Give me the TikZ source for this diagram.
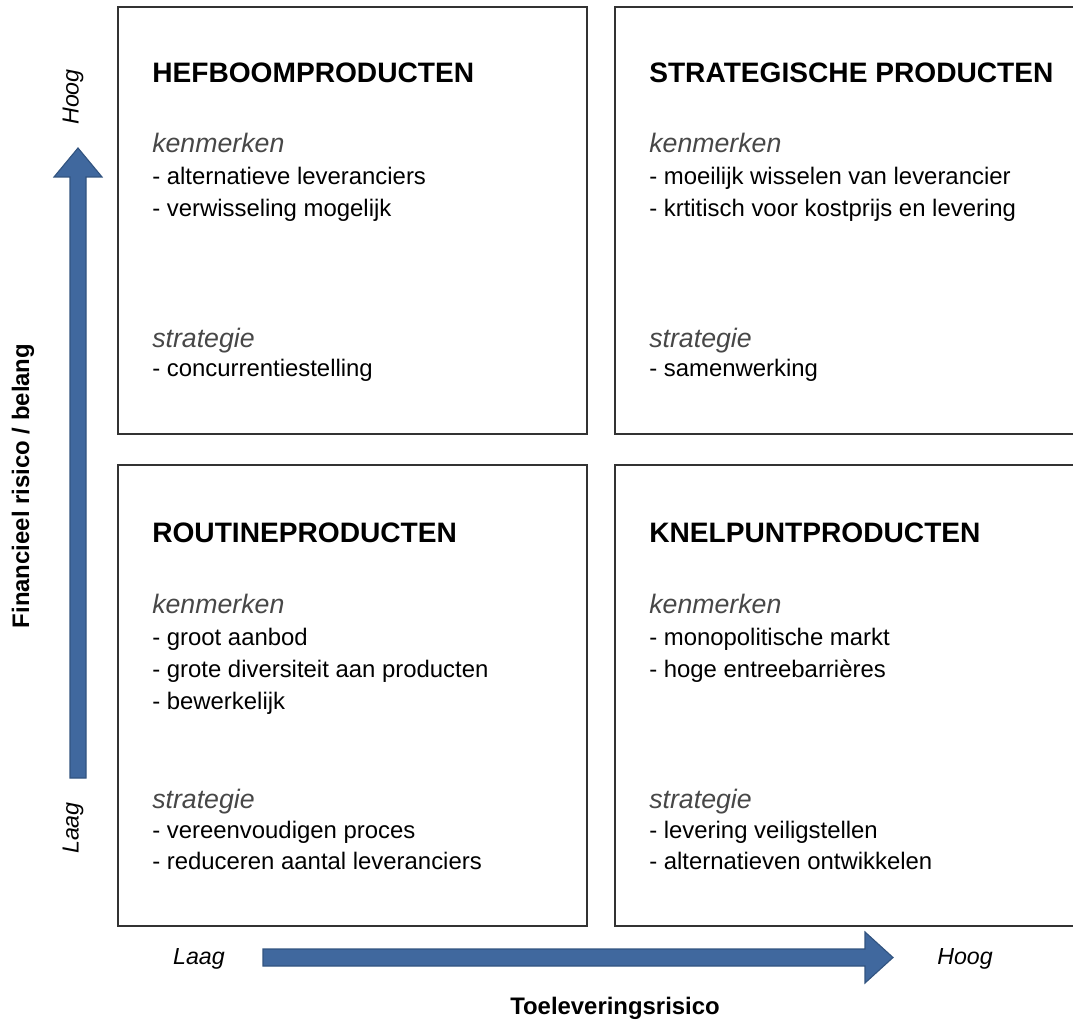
\documentclass[tikz,border=0pt]{standalone}
\usepackage{fontspec}
\setmainfont{Liberation Sans}
\usepackage{xcolor}
\usepackage{tikz}

\definecolor{arrowblue}{RGB}{64,104,158}
\definecolor{arrowedge}{RGB}{50,84,128}
\definecolor{boxline}{RGB}{51,51,51}

\tikzset{
  quad/.style={draw=boxline, line width=1.3pt},
  titletext/.style={anchor=base west, inner sep=0pt, font=\fontsize{20}{24}\selectfont\bfseries},
  headtext/.style={anchor=base west, inner sep=0pt, text=black!72, font=\fontsize{19}{23}\selectfont\itshape},
  itemtext/.style={anchor=base west, inner sep=0pt, font=\fontsize{17}{21}\selectfont},
  axistext/.style={inner sep=0pt, font=\fontsize{17}{21}\selectfont\bfseries},
  endtext/.style={inner sep=0pt, font=\fontsize{16.5}{20}\selectfont\itshape},
  axisarrow/.style={fill=arrowblue, draw=arrowedge, line width=0.8pt, line join=miter},
}

\begin{document}
\begin{tikzpicture}[x=0.025cm, y=-0.025cm]
  \useasboundingbox (0,0) rectangle (1073,1023);
  \clip (0,0) rectangle (1073,1023);

  % quadrants
  \draw[quad] (118,7) rectangle (587,434);
  \draw[quad] (1090,7) -- (615,7) -- (615,434) -- (1090,434);
  \draw[quad] (118,465) rectangle (587,926);
  \draw[quad] (1090,465) -- (615,465) -- (615,926) -- (1090,926);

  % top left
  \node[titletext] (hefTitle) at (152,83) {HEFBOOMPRODUCTEN};
  \node[headtext] (hefKen) at (152,153) {kenmerken};
  \foreach \txt [count=\i] in {- alternatieve leveranciers, - verwisseling mogelijk}
    \node[itemtext] (hefKen\i) at (152,{153+32*\i}) {\txt};
  \node[headtext] (hefStr) at (152,348) {strategie};
  \node[itemtext] (hefStr1) at (152,377) {- concurrentiestelling};

  % top right
  \node[titletext] (strTitle) at (649,83) {STRATEGISCHE PRODUCTEN};
  \node[headtext] (strKen) at (649,153) {kenmerken};
  \foreach \txt [count=\i] in {- moeilijk wisselen van leverancier, - krtitisch voor kostprijs en levering}
    \node[itemtext] (strKen\i) at (649,{153+32*\i}) {\txt};
  \node[headtext] (strStr) at (649,348) {strategie};
  \node[itemtext] (strStr1) at (649,377) {- samenwerking};

  % bottom left
  \node[titletext] (rouTitle) at (152,543) {ROUTINEPRODUCTEN};
  \node[headtext] (rouKen) at (152,613) {kenmerken};
  \foreach \txt [count=\i] in {- groot aanbod, - grote diversiteit aan producten, - bewerkelijk}
    \node[itemtext] (rouKen\i) at (152,{613+32*\i}) {\txt};
  \node[headtext] (rouStr) at (152,808) {strategie};
  \foreach \txt [count=\i] in {- vereenvoudigen proces, - reduceren aantal leveranciers}
    \node[itemtext] (rouStr\i) at (152,{808+30.5*\i}) {\txt};

  % bottom right
  \node[titletext] (kneTitle) at (649,543) {KNELPUNTPRODUCTEN};
  \node[headtext] (kneKen) at (649,613) {kenmerken};
  \foreach \txt [count=\i] in {- monopolitische markt, - hoge entreebarrières}
    \node[itemtext] (kneKen\i) at (649,{613+32*\i}) {\txt};
  \node[headtext] (kneStr) at (649,808) {strategie};
  \foreach \txt [count=\i] in {- levering veiligstellen, - alternatieven ontwikkelen}
    \node[itemtext] (kneStr\i) at (649,{808+30.5*\i}) {\txt};

  % axes
  \draw[axisarrow] (70,778) -- (70,177) -- (54,177) -- (78,148) -- (102,177)
    -- (86,177) -- (86,778) -- cycle;
  \draw[axisarrow] (263,949) -- (865,949) -- (865,932) -- (893,957.5) -- (865,983)
    -- (865,966) -- (263,966) -- cycle;

  \node[endtext, rotate=90] (vHoog) at (73,97) {Hoog};
  \node[endtext, rotate=90] (vLaag) at (73,828) {Laag};
  \node[axistext, rotate=90] (vAxis) at (23,486) {Financieel risico / belang};
  \node[endtext] (hLaag) at (199,959) {Laag};
  \node[endtext] (hHoog) at (965,959) {Hoog};
  \node[axistext] (hAxis) at (615,1008) {Toeleveringsrisico};
\end{tikzpicture}
\end{document}
